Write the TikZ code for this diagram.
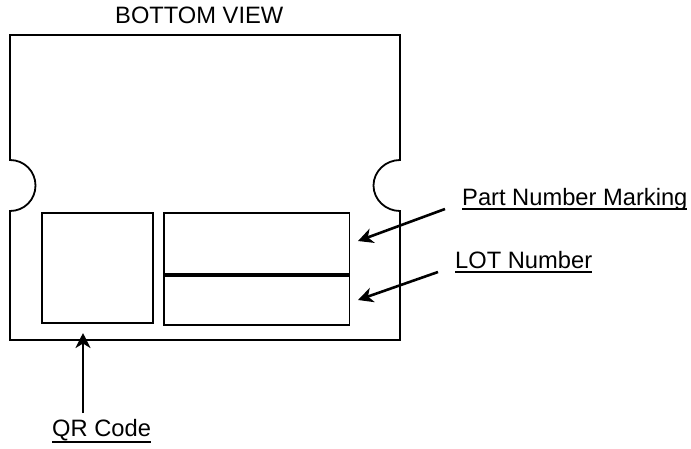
\documentclass[tikz,border=0pt]{standalone}
\usepackage{fontspec}
\setmainfont{Liberation Sans}
\usetikzlibrary{arrows.meta}
\newcommand{\ulabel}[2][-4.8pt]{{\setbox0=\hbox{#2}\rlap{\rule[#1]{\wd0}{1.9pt}}\box0}}
\tikzset{
  outline/.style={line width=1.8pt,line join=miter},
  field/.style={draw,line width=1.8pt,anchor=north west,inner sep=0pt,outer sep=0pt},
  lbl/.style={anchor=base west,inner sep=0pt,font=\fontsize{23.7pt}{26pt}\selectfont,text=black},
  pointer/.style={line width=2.6pt,-{Stealth[length=15pt,width=15pt,inset=4.5pt]}}
}
\begin{document}
\begin{tikzpicture}[x=1pt,y=-1pt]
\useasboundingbox (0,0) rectangle (691,448);
\draw[outline] (10,35) -- (400,35) -- (400,160)
  .. controls (385.6,160) and (373.5,171.4) .. (373.5,185.5)
  .. controls (373.5,199.6) and (385.6,211) .. (400,211)
  -- (400,340) -- (10,340) -- (10,211)
  .. controls (24.4,211) and (35.5,199.6) .. (35.5,185.5)
  .. controls (35.5,171.4) and (24.4,160) .. (10,160) -- cycle;
\node[field,minimum width=111pt,minimum height=110.5pt] (qr) at (41.8,212.7) {};
\node[field,minimum width=185.5pt,minimum height=61pt] (part) at (164,213) {};
\node[field,minimum width=185.5pt,minimum height=49pt] (lot) at (164,276) {};
\node[lbl] (title) at (115,23.5) {BOTTOM VIEW};
\node[lbl] (partl) at (462,205) {\ulabel{Part Number Marking}};
\node[lbl] (lotl) at (455,268) {\ulabel{LOT Number}};
\node[lbl] (qrl) at (52,436) {\ulabel[-7pt]{QR Code}};
\coordinate (pa) at (445,209);
\coordinate (pb) at (358,241);
\coordinate (la) at (438,272);
\coordinate (lb) at (358,300);
\coordinate (qa) at (83,413);
\coordinate (qb) at (83,333);
\draw[pointer] (pa) -- (pb);
\draw[pointer] (la) -- (lb);
\draw[pointer] (qa) -- (qb);
\end{tikzpicture}
\end{document}
